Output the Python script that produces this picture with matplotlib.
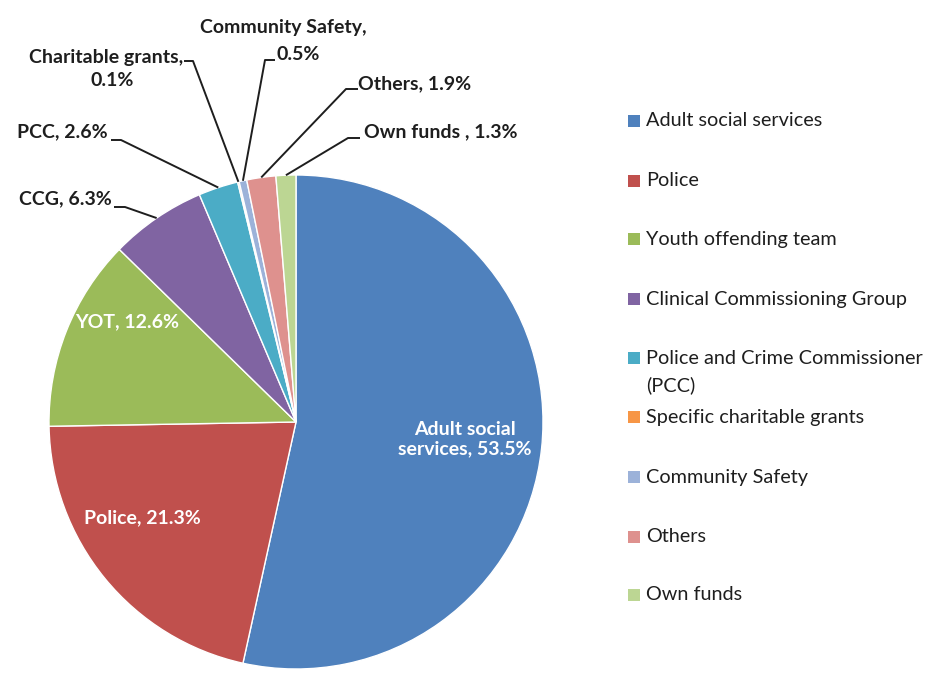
import numpy as np
import matplotlib.pyplot as plt
from matplotlib.patches import Rectangle

W, H = 933, 673

categories = ["Adult social services", "Police", "Youth offending team",
              "Clinical Commissioning Group", "Police and Crime Commissioner\n(PCC)",
              "Specific charitable grants", "Community Safety", "Others", "Own funds"]
short_names = ["Adult social\nservices", "Police", "YOT", "CCG", "PCC",
               "Charitable grants,\n", "Community Safety,\n", "Others", "Own funds "]
shares = [53.5, 21.3, 12.6, 6.3, 2.6, 0.1, 0.5, 1.9, 1.3]
colors = ["#4F81BD", "#C0504D", "#9BBB59", "#8064A2", "#4BACC6",
          "#F79646", "#9CB2D9", "#DE918E", "#BCD693"]

plt.rcParams["font.family"] = ["Lato", "DejaVu Sans"]
TXT = "#1e1e1e"


def px(x, y):
    # pixel position (top-left origin) -> data coords
    return x, H - y


def main():
    fig = plt.figure(figsize=(W / 100, H / 100), dpi=100)
    ax = fig.add_axes([0, 0, 1, 1])

    cx, cy = px(296, 422)
    r = 247
    wedges, _ = ax.pie(shares, colors=colors, startangle=90, counterclock=False,
                       center=(cx, cy), radius=r,
                       wedgeprops=dict(edgecolor="white", linewidth=1))
    ax.set_xlim(0, W)
    ax.set_ylim(0, H)
    ax.set_aspect("equal")
    ax.axis("off")

    def label(i):
        name = short_names[i]
        sep = "" if name.endswith("\n") else ", "
        return f"{name}{sep}{shares[i]}%"

    # labels inside the pie
    inside = {0: (465, 439), 1: (142, 518), 2: (127, 322)}
    for i, (x, y) in inside.items():
        ax.text(*px(x, y), label(i), ha="center", va="center", color="white",
                fontsize=14, fontweight="bold", linespacing=1.15)

    # labels outside with leader lines: line centres, tick start, tick end
    outside = {
        3: ([(65, 199)], (114, 207), (125, 207)),
        4: ([(62, 132)], (111, 140), (121, 140)),
        5: ([(106, 57), (112, 81)], (184, 61), (193, 61)),
        6: ([(283, 27), (298, 55)], (275, 60), (265, 60)),
        7: ([(415, 84)], (358, 89), (346, 89)),
        8: ([(441, 132)], (360, 138), (348, 138)),
    }
    for i, (lines, t0, t1) in outside.items():
        w = wedges[i]
        mid = np.deg2rad((w.theta1 + w.theta2) / 2)
        ex, ey = cx + r * np.cos(mid), cy + r * np.sin(mid)
        parts = label(i).split("\n")
        for text, pos in zip(parts, lines):
            ax.text(*px(*pos), text, ha="center", va="center", color=TXT,
                    fontsize=14, fontweight="bold")
        xs = [px(*t0)[0], px(*t1)[0], ex]
        ys = [px(*t0)[1], px(*t1)[1], ey]
        ax.plot(xs, ys, color=TXT, lw=1.4, solid_capstyle="butt")

    # legend
    legend_y = [121, 181, 239, 299, 358, 417, 477, 537, 595]
    for name, col, y in zip(categories, colors, legend_y):
        x0, y0 = px(628, y + 6)
        ax.add_patch(Rectangle((x0, y0), 12, 12, facecolor=col, edgecolor="none"))
        for k, part in enumerate(name.split("\n")):
            ax.text(*px(646, y + 27 * k), part, ha="left", va="center", color=TXT,
                    fontsize=14.3)

    fig.savefig("out.png", dpi=100)


if __name__ == "__main__":
    main()
